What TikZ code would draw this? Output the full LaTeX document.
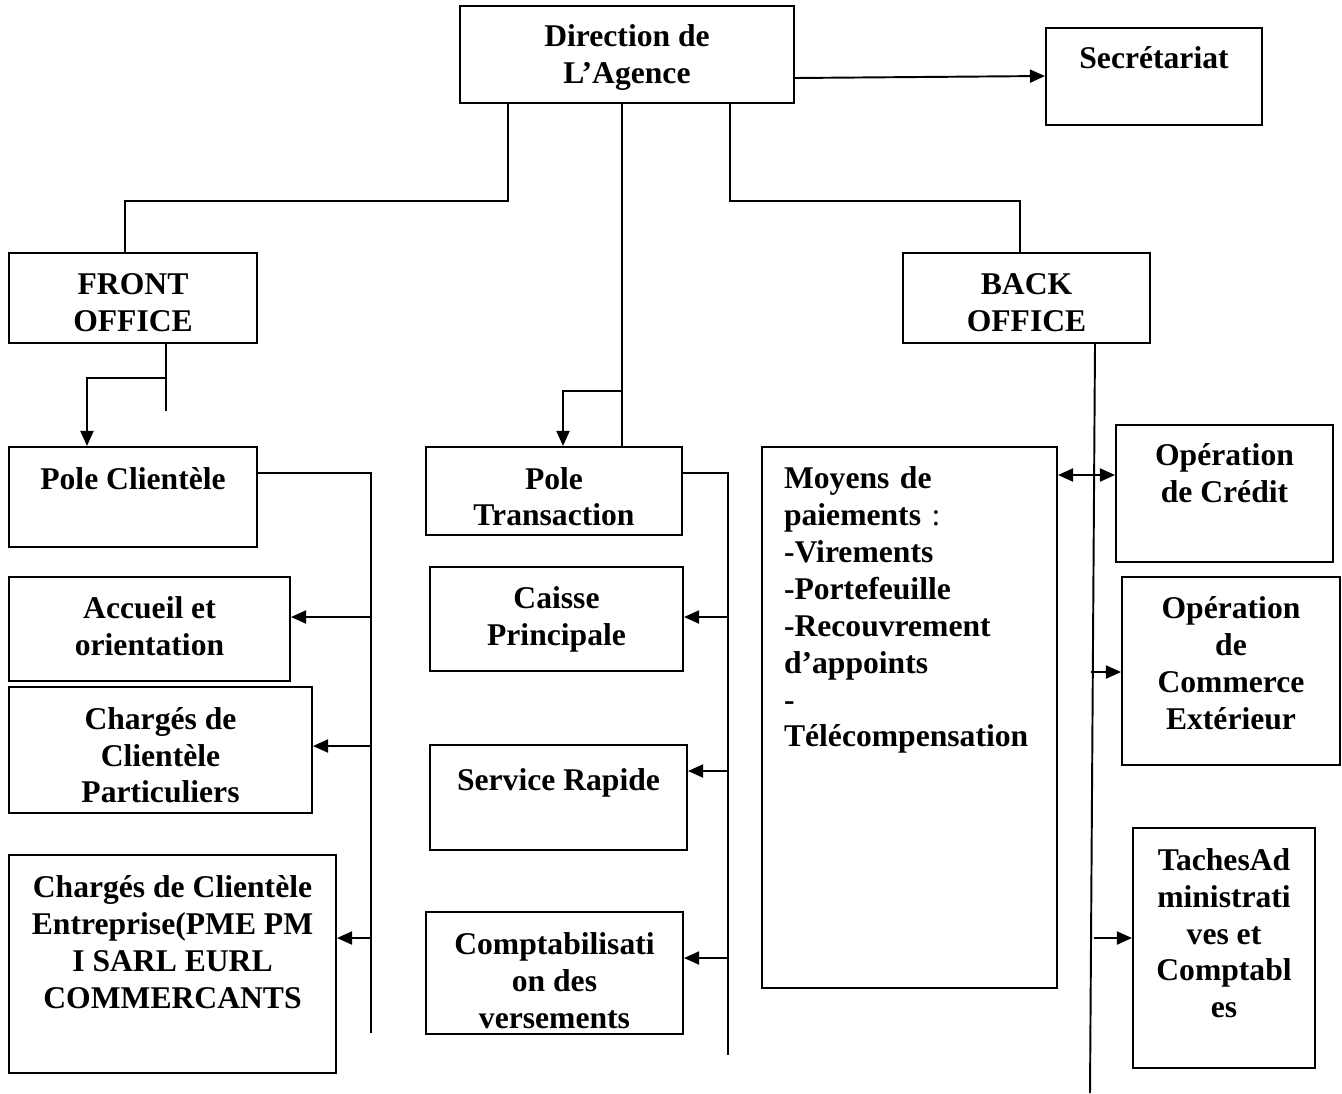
\documentclass[tikz,border=0pt]{standalone}
\usepackage{fontspec}
\setmainfont{Liberation Serif}
\usetikzlibrary{positioning,calc,arrows.meta}

\begin{document}
\begin{tikzpicture}[x=0.02cm, y=-0.02cm,
  box/.style={draw, line width=1.2pt, align=center, font=\fontsize{18}{21}\selectfont\bfseries, inner sep=2pt},
  wire/.style={line width=1.1pt},
  arr/.style={wire, -{Triangle[length=0.3cm,width=0.26cm]}},
  biarr/.style={wire, {Triangle[length=0.3cm,width=0.26cm]}-{Triangle[length=0.3cm,width=0.26cm]}},
]
\useasboundingbox (0,0) rectangle (1342,1093);

% Top level
\node[box, minimum width=6.68cm, minimum height=1.94cm, text height=36.5pt] (dir) at (627,54.5) {Direction de\\L’Agence};
\node[box, minimum width=4.32cm, minimum height=1.94cm, text depth=22pt] (sec) at (1154,76.5) {Secrétariat};

% Offices
\node[box, minimum width=4.96cm, minimum height=1.80cm, text height=38pt] (front) at (133,298) {FRONT\\OFFICE};
\node[box, minimum width=4.94cm, minimum height=1.80cm, text height=38pt] (back) at (1026.5,298) {BACK\\OFFICE};

% Front office column
\node[box, minimum width=4.96cm, minimum height=2.00cm, text depth=20.5pt] (pcli) at (133,497) {Pole Clientèle};
\node[box, minimum width=5.62cm, minimum height=2.08cm, text depth=3.4pt] (acc) at (149.5,629) {Accueil et\\orientation};
\node[box, minimum width=6.06cm, minimum height=2.52cm, text height=60.5pt] (cpa) at (160.5,750) {Chargés de\\Clientèle\\Particuliers};
\node[box, minimum width=6.54cm, minimum height=4.36cm, text depth=25pt] (cen) at (172.5,964) {Chargés de Clientèle\\Entreprise(PME PM\\I SARL EURL\\COMMERCANTS};

% Transaction column
\node[box, minimum width=5.12cm, minimum height=1.76cm, text height=40pt] (ptra) at (554,491) {Pole\\Transaction};
\node[box, minimum width=5.06cm, minimum height=2.08cm] (cai) at (556.5,619) {Caisse\\Principale};
\node[box, minimum width=5.14cm, minimum height=2.10cm, text depth=20pt] (ser) at (558.5,797.5) {Service Rapide};
\node[box, minimum width=5.14cm, minimum height=2.44cm, text height=63pt] (cmp) at (554.5,973) {Comptabilisati\\on des\\versements};

% Back office column
\node[box, align=left, text width=5.02cm, inner xsep=0.44cm, minimum height=10.82cm, text depth=273pt] (moy) at (909.5,717.5)
  {Moyens de\\paiements \textmd{:}\\-Virements\\-Portefeuille\\-Recouvrement\\d’appoints\\-\\Télécompensation};
\node[box, minimum width=4.34cm, minimum height=2.74cm, text depth=23pt] (ocr) at (1224.5,493.5) {Opération\\de Crédit};
\node[box, minimum width=4.36cm, minimum height=3.76cm, text depth=9pt] (oce) at (1231,671) {Opération\\de\\Commerce\\Extérieur};
\node[box, minimum width=3.64cm, minimum height=4.80cm, text depth=17pt] (tac) at (1224,948) {TachesAd\\ministrati\\ves et\\Comptabl\\es};

% Free line ends
\coordinate (lcol) at (371,1033);
\coordinate (mcol) at (728,1055);
\coordinate (bcol) at (1090,1093);

% Direction links
\draw[arr] (dir.east |- 0,78) -- (sec.west |- 0,76);
\draw[wire] (508,0 |- dir.south) -- (508,201) -| (125,0 |- front.north);
\draw[wire] (622,0 |- dir.south) -- (622,0 |- ptra.north);
\draw[arr] (622,391) -| (563,0 |- ptra.north);
\draw[wire] (730,0 |- dir.south) -- (730,201) -| (1020,0 |- back.north);

% Front office
\draw[wire] (166,0 |- front.south) -- (166,411);
\draw[arr] (166,378) -| (87,0 |- pcli.north);
\draw[wire] (pcli.east |- 0,473) -| (lcol);
\draw[arr] (lcol |- 0,617) -- (acc.east |- 0,617);
\draw[arr] (lcol |- 0,746) -- (cpa.east |- 0,746);
\draw[arr] (lcol |- 0,938) -- (cen.east |- 0,938);

% Transactions
\draw[wire] (ptra.east |- 0,473) -| (mcol);
\draw[arr] (mcol |- 0,617) -- (cai.east |- 0,617);
\draw[arr] (mcol |- 0,771) -- (ser.east |- 0,771);
\draw[arr] (mcol |- 0,958) -- (cmp.east |- 0,958);

% Back office
\draw[wire] (1095,0 |- back.south) -- (bcol);
\draw[biarr] (moy.east |- 0,475) -- (ocr.west |- 0,475);
\draw[arr] (1091,672) -- (oce.west |- 0,672);
\draw[arr] (1094,938) -- (tac.west |- 0,938);
\end{tikzpicture}
\end{document}
